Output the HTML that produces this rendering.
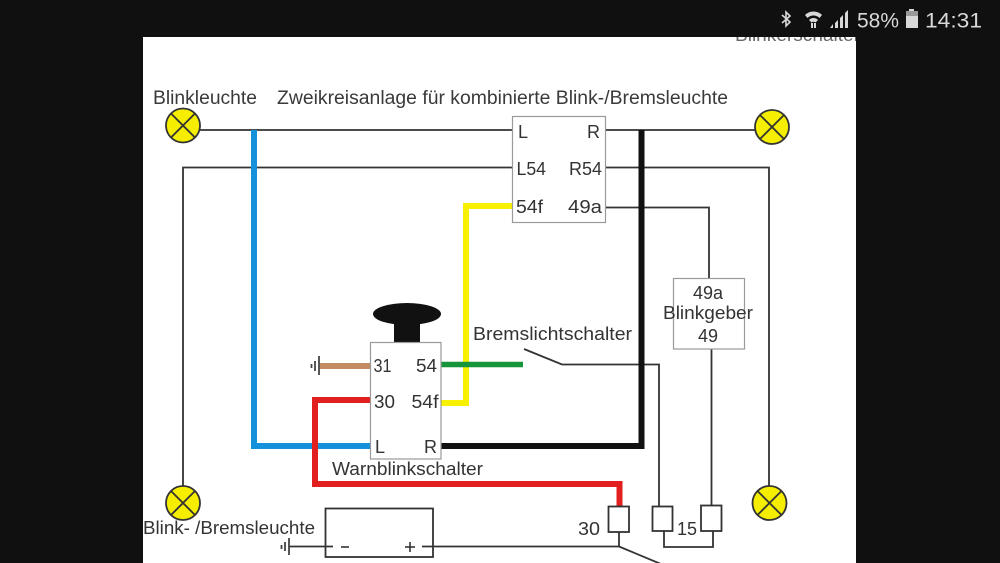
<!DOCTYPE html>
<html><head><meta charset="utf-8">
<style>
html,body{margin:0;padding:0;background:#101010;}
svg{display:block;}
text{font-family:"Liberation Sans","DejaVu Sans",sans-serif;}
</style></head>
<body>
<svg width="1000" height="563" viewBox="0 0 1000 563" xmlns="http://www.w3.org/2000/svg">
<defs>
  <clipPath id="pg"><rect x="143" y="37" width="713" height="526"/></clipPath>
</defs>
<rect x="0" y="0" width="1000" height="563" fill="#101010"/>
<!-- status bar -->
<g fill="#d8d8d8" stroke="none">
  <path d="M782 15 L790 22 L786 26 L786 12 L790 16 L782 23" fill="none" stroke="#d8d8d8" stroke-width="1.6"/>
  <path d="M805 15 A12 12 0 0 1 822 15 L819.5 18 A8.5 8.5 0 0 0 807.5 18 Z"/>
  <path d="M809 20 A6 6 0 0 1 818 20 L815.5 22.5 A3 3 0 0 0 811.5 22.5 Z"/>
  <rect x="811" y="23" width="2" height="5"/><rect x="814" y="23" width="2" height="5"/>
  <polygon points="830,28 833,28 833,24"/>
  <polygon points="835,28 838,28 838,20 835,23"/>
  <polygon points="840,28 843,28 843,15 840,18"/>
  <polygon points="845,28 848,28 848,10 845,13"/>
  <text x="857" y="27.5" font-size="21" fill="#d8d8d8" textLength="42" lengthAdjust="spacingAndGlyphs">58%</text>
  <rect x="909" y="9" width="5" height="2"/>
  <rect x="906" y="11" width="12" height="17" fill="#9a9a9a"/>
  <rect x="906" y="16" width="12" height="12" fill="#d8d8d8"/>
  <text x="925" y="27.5" font-size="21" fill="#d8d8d8" textLength="57" lengthAdjust="spacingAndGlyphs">14:31</text>
</g>
<!-- white page -->
<g clip-path="url(#pg)">
<rect x="143" y="37" width="713" height="526" fill="#ffffff"/>
<text x="735" y="41" font-size="18" fill="#666" textLength="125" lengthAdjust="spacingAndGlyphs">Blinkerschalter</text>

<!-- titles -->
<text x="153" y="104" font-size="19" fill="#3a3a3a" textLength="104" lengthAdjust="spacingAndGlyphs">Blinkleuchte</text>
<text x="277" y="104" font-size="19" fill="#3a3a3a" textLength="451" lengthAdjust="spacingAndGlyphs">Zweikreisanlage für kombinierte Blink-/Bremsleuchte</text>

<!-- thin wires -->
<g fill="none" stroke="#333" stroke-width="1.8">
  <line x1="199" y1="130" x2="512" y2="130"/>
  <line x1="606" y1="130" x2="755" y2="130"/>
  <polyline points="512,167.5 183,167.5 183,486"/>
  <polyline points="606,167.5 769,167.5 769,486"/>
  <polyline points="606,207.5 709,207.5 709,278"/>
  <line x1="711.5" y1="349" x2="711.5" y2="505"/>
  <polyline points="524,349 562,364.5 659,364.5 659,506"/>
  <polyline points="664,531 664,547 713,547 713,531"/>
  <polyline points="619,532 619,546.5 422,546.5"/>
  <line x1="619" y1="546.5" x2="661" y2="564"/>
  <line x1="289" y1="546.5" x2="333" y2="546.5"/>
</g>

<!-- colored wires -->
<polyline points="254,130 254,446 370,446" fill="none" stroke="#1590db" stroke-width="6"/>
<polyline points="441,403 466,403 466,206 512,206" fill="none" stroke="#f7f000" stroke-width="6"/>
<line x1="441" y1="364.5" x2="523" y2="364.5" stroke="#16953a" stroke-width="5.5"/>
<line x1="320" y1="366" x2="370" y2="366" stroke="#c48a62" stroke-width="6"/>
<polyline points="370,400 315,400 315,484 619.5,484 619.5,506" fill="none" stroke="#e21f1f" stroke-width="6"/>
<polyline points="441,446 641.5,446 641.5,130" fill="none" stroke="#111" stroke-width="6"/>

<!-- ground symbols -->
<g stroke="#444" stroke-width="1.8">
  <line x1="319" y1="356" x2="319" y2="375"/>
  <line x1="315" y1="361" x2="315" y2="371"/>
  <line x1="311.5" y1="364" x2="311.5" y2="368"/>
  <line x1="289" y1="538" x2="289" y2="555"/>
  <line x1="285" y1="542" x2="285" y2="551"/>
  <line x1="281.5" y1="545" x2="281.5" y2="549"/>
</g>

<!-- relay box top -->
<rect x="512.5" y="116.5" width="93" height="106" fill="#fff" stroke="#9a9a9a" stroke-width="1.2"/>
<g font-size="18" fill="#333">
  <text x="518" y="138">L</text>
  <text x="600" y="138" text-anchor="end">R</text>
  <text x="516.5" y="175" textLength="29.5" lengthAdjust="spacingAndGlyphs">L54</text>
  <text x="602" y="175" text-anchor="end" textLength="33" lengthAdjust="spacingAndGlyphs">R54</text>
  <text x="516" y="213" textLength="27" lengthAdjust="spacingAndGlyphs">54f</text>
  <text x="602" y="213" text-anchor="end" textLength="34" lengthAdjust="spacingAndGlyphs">49a</text>
</g>

<!-- Blinkgeber -->
<rect x="673.5" y="278.5" width="71" height="70.5" fill="#fff" stroke="#9a9a9a" stroke-width="1.2"/>
<g font-size="18" fill="#333" text-anchor="middle">
  <text x="708" y="299">49a</text>
  <text x="708" y="319" textLength="90" lengthAdjust="spacingAndGlyphs">Blinkgeber</text>
  <text x="708" y="342">49</text>
</g>

<!-- Warnblinkschalter -->
<ellipse cx="407" cy="314" rx="34" ry="11" fill="#111"/>
<rect x="394" y="316" width="26" height="27" fill="#111"/>
<rect x="370.5" y="342.5" width="70.5" height="116.5" fill="#fff" stroke="#9a9a9a" stroke-width="1.2"/>
<g font-size="18" fill="#333">
  <text x="373.5" y="372" textLength="18" lengthAdjust="spacingAndGlyphs">31</text>
  <text x="437" y="372" text-anchor="end" textLength="21" lengthAdjust="spacingAndGlyphs">54</text>
  <text x="374" y="408" textLength="21" lengthAdjust="spacingAndGlyphs">30</text>
  <text x="438.5" y="408" text-anchor="end" textLength="27" lengthAdjust="spacingAndGlyphs">54f</text>
  <text x="375" y="453">L</text>
  <text x="437" y="453" text-anchor="end">R</text>
  <text x="332" y="475" textLength="151" lengthAdjust="spacingAndGlyphs">Warnblinkschalter</text>
  <text x="473" y="340" textLength="159" lengthAdjust="spacingAndGlyphs">Bremslichtschalter</text>
  <text x="143" y="534" textLength="172" lengthAdjust="spacingAndGlyphs">Blink- /Bremsleuchte</text>
  <text x="578" y="535" textLength="22" lengthAdjust="spacingAndGlyphs">30</text>
  <text x="677" y="535" textLength="20" lengthAdjust="spacingAndGlyphs">15</text>
</g>

<!-- battery -->
<rect x="325.5" y="508.5" width="107.5" height="48.5" fill="none" stroke="#333" stroke-width="1.8"/>
<g fill="none" stroke="#333" stroke-width="1.6">
  <line x1="341" y1="547" x2="349" y2="547"/>
  <line x1="405" y1="547" x2="415" y2="547"/>
  <line x1="410" y1="542" x2="410" y2="552"/>
</g>

<!-- connectors -->
<g fill="#fff" stroke="#333" stroke-width="1.8">
  <rect x="608.5" y="506.5" width="20.5" height="25.5"/>
  <rect x="652.5" y="506.5" width="20" height="24.5"/>
  <rect x="701" y="505.5" width="20.5" height="25.5"/>
</g>

<!-- lamps -->
<g stroke="#333" stroke-width="1.8">
  <g transform="translate(183,125.5)"><circle r="17" fill="#f5ee00"/><line x1="-12" y1="-12" x2="12" y2="12"/><line x1="12" y1="-12" x2="-12" y2="12"/></g>
  <g transform="translate(772,127)"><circle r="17" fill="#f5ee00"/><line x1="-12" y1="-12" x2="12" y2="12"/><line x1="12" y1="-12" x2="-12" y2="12"/></g>
  <g transform="translate(183,503)"><circle r="17" fill="#f5ee00"/><line x1="-12" y1="-12" x2="12" y2="12"/><line x1="12" y1="-12" x2="-12" y2="12"/></g>
  <g transform="translate(769.5,503)"><circle r="17" fill="#f5ee00"/><line x1="-12" y1="-12" x2="12" y2="12"/><line x1="12" y1="-12" x2="-12" y2="12"/></g>
</g>
</g>
</svg>
</body></html>
